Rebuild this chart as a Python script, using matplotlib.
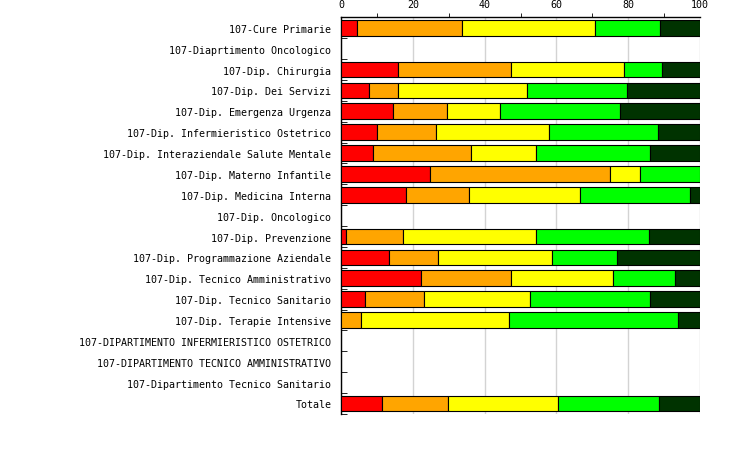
import matplotlib
matplotlib.use("Agg")
import matplotlib.pyplot as plt
import numpy as np

categories = [
    "107-Cure Primarie",
    "107-Diaprtimento Oncologico",
    "107-Dip. Chirurgia",
    "107-Dip. Dei Servizi",
    "107-Dip. Emergenza Urgenza",
    "107-Dip. Infermieristico Ostetrico",
    "107-Dip. Interaziendale Salute Mentale",
    "107-Dip. Materno Infantile",
    "107-Dip. Medicina Interna",
    "107-Dip. Oncologico",
    "107-Dip. Prevenzione",
    "107-Dip. Programmazione Aziendale",
    "107-Dip. Tecnico Amministrativo",
    "107-Dip. Tecnico Sanitario",
    "107-Dip. Terapie Intensive",
    "107-DIPARTIMENTO INFERMIERISTICO OSTETRICO",
    "107-DIPARTIMENTO TECNICO AMMINISTRATIVO",
    "107-Dipartimento Tecnico Sanitario",
    "Totale",
]

# percentage of each band per department
red = [4.5, 0, 15.8, 7.9, 14.5, 10.1, 9.0, 24.8, 18.0, 0, 1.5, 13.4, 22.3, 6.8, 0, 0, 0, 0, 11.3]
orange = [29.3, 0, 31.5, 8.0, 15.1, 16.4, 27.2, 50.1, 17.7, 0, 15.8, 13.7, 25.0, 16.4, 5.6, 0, 0, 0, 18.4]
yellow = [37.0, 0, 31.6, 35.9, 14.7, 31.4, 18.1, 8.3, 30.8, 0, 37.0, 31.8, 28.4, 29.4, 41.2, 0, 0, 0, 30.7]
green = [18.2, 0, 10.4, 28.0, 33.4, 30.5, 31.9, 16.8, 30.8, 0, 31.6, 18.1, 17.4, 33.6, 47.2, 0, 0, 0, 28.3]
darkgreen = [11.0, 0, 10.7, 20.2, 22.3, 11.6, 13.8, 0, 2.7, 0, 14.1, 23.0, 6.9, 13.8, 6.0, 0, 0, 0, 11.3]

series = [red, orange, yellow, green, darkgreen]
colors = ["#ff0000", "#ffa500", "#ffff00", "#00ff00", "#003300"]

plt.rcParams["font.family"] = ["DejaVu Sans Mono"]
plt.rcParams["font.size"] = 7.2

fig = plt.figure(figsize=(7.5, 4.6), dpi=100)
ax = fig.add_axes([0.4547, 0.098, 0.9333 - 0.4547, 0.862])

y = np.arange(len(categories))
left = np.zeros(len(categories))
for vals, col in zip(series, colors):
    vals = np.array(vals)
    mask = vals > 0
    ax.barh(y[mask], vals[mask], left=left[mask], height=0.75, color=col,
            edgecolor="black", linewidth=0.8, zorder=3)
    left += vals

ax.set_xlim(0, 100)
ax.set_ylim(len(categories) - 0.5, -0.5)

ax.xaxis.tick_top()
ax.set_xticks(np.arange(0, 101, 20))
ax.set_xticks(np.arange(10, 100, 20), minor=True)
ax.tick_params(axis="x", which="major", length=0, pad=6)
ax.tick_params(axis="x", which="minor", length=3, direction="out", color="black")
ax.grid(axis="x", which="major", color="#d3d3d3", linewidth=1, zorder=0)

ax.set_yticks(y)
ax.set_yticklabels(categories)
ax.set_yticks(np.arange(-0.5, len(categories)), minor=True)
ax.tick_params(axis="y", which="major", length=0, pad=7)
ax.tick_params(axis="y", which="minor", length=4, direction="in", color="black")

for s in ["right", "bottom"]:
    ax.spines[s].set_visible(False)
for s in ["top", "left"]:
    ax.spines[s].set_color("black")
    ax.spines[s].set_linewidth(1)

fig.savefig("out.png", dpi=100)
